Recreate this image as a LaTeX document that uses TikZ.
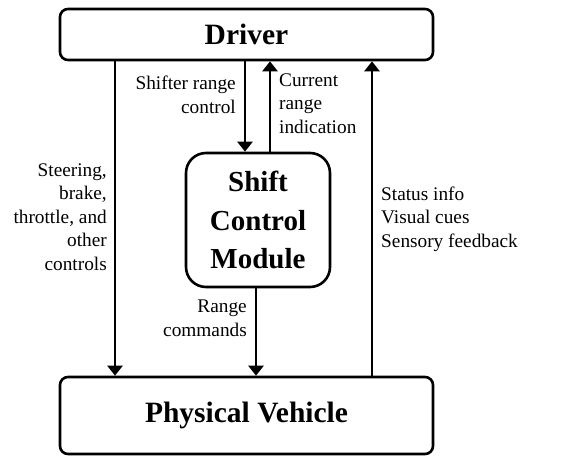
\documentclass[tikz,border=0pt]{standalone}
\usepackage{fontspec}
\setmainfont{Liberation Serif}
\usetikzlibrary{arrows.meta}
\begin{document}
\begin{tikzpicture}[x=1pt,y=-1pt,
  box/.style={draw,line width=2.6pt,rounded corners=8pt,inner sep=0pt,
    font=\bfseries\fontsize{29.5}{38.5}\selectfont},
  mod/.style={draw,line width=2.6pt,rounded corners=20pt,inner sep=0pt,align=center,
    font=\bfseries\fontsize{29}{38.5}\selectfont},
  lbl/.style={inner sep=0pt,font=\fontsize{19.3}{23.5}\selectfont},
  arr/.style={line width=2.6pt,-{Triangle[length=10pt,width=15pt]}}]
\useasboundingbox (0,0) rectangle (561,455);
\node[box,minimum width=373pt,minimum height=51pt] (drv) at (246.5,34.5) {Driver};
\node[box,minimum width=373pt,minimum height=77pt] (veh) at (246.5,415.5) {Physical Vehicle};
\node[mod,minimum width=144pt,minimum height=134pt] (scm) at (258,220) {Shift\\Control\\Module};
\draw[arr] (115,0 |- drv.south) -- (115,0 |- veh.north);
\draw[arr] (245,0 |- drv.south) -- (245,0 |- scm.north);
\draw[arr] (270,0 |- scm.north) -- (270,0 |- drv.south);
\draw[arr] (256,0 |- scm.south) -- (256,0 |- veh.north);
\draw[arr] (372,0 |- veh.north) -- (372,0 |- drv.south);
\node[lbl,align=right,anchor=base east] (l1) at (107,270) {Steering,\\brake,\\throttle, and\\other\\controls};
\node[lbl,align=right,anchor=base east] (l2) at (236,113) {Shifter range\\control};
\node[lbl,align=left,anchor=base west] (l3) at (279,133) {Current\\range\\indication};
\node[lbl,align=right,anchor=base east] (l4) at (247,336) {Range\\commands};
\node[lbl,align=left,anchor=base west] (l5) at (381,247) {Status info\\Visual cues\\Sensory feedback};
\end{tikzpicture}
\end{document}
